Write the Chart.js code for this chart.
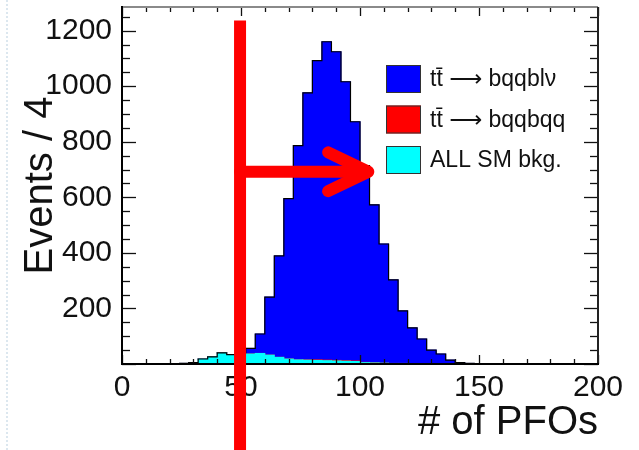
<!DOCTYPE html>
<html>
<head>
<meta charset="utf-8">
<script src="https://cdn.jsdelivr.net/npm/chart.js@4"></script>
<style>
  html, body { margin: 0; padding: 0; background: #fff; }
  #wrap { position: relative; width: 639px; height: 450px; }
  #dots { position: absolute; left: 6px; top: 0; height: 450px; border-left: 2px dotted #dce7ef; }
</style>
</head>
<body>
<div id="wrap">
  <div id="dots"></div>
  <canvas id="pfo" width="639" height="450"></canvas>
</div>
<script>
// histogram bins (lower edge, width 4)
const binWidth = 4;
const binStarts = [24, 28, 32, 36, 40, 44, 48, 52, 56, 60, 64, 68, 72, 76, 80, 84, 88, 92, 96, 100,
  104, 108, 112, 116, 120, 124, 128, 132, 136, 140, 144];
// ALL SM bkg. (bottom of the stack)
const smBkg = [2, 5, 18, 26, 40, 34, 38, 36, 38, 32, 24, 18, 15, 14, 13, 12, 11, 10, 9, 5,
  4, 3, 2, 2, 1, 0, 0, 0, 0, 0, 0];
// tt -> bqqbqq
const ttHad = [0, 0, 0, 0, 0, 0, 0, 0, 0, 0, 0, 0, 0, 1, 2, 2, 2, 2, 2, 1,
  1, 0, 0, 0, 0, 0, 0, 0, 0, 0, 0];
// tt -> bqqblv (top of the stack)
const ttSemi = [0, 0, 0, 0, 0, 0, 2, 20, 70, 209, 365, 577, 771, 961, 1077, 1146, 1111, 1004, 861, 708,
  568, 429, 301, 189, 129, 90, 50, 36, 14, 5, 2];

const xTicks = [0, 50, 100, 150, 200];
const yTicks = [200, 400, 600, 800, 1000, 1200];

// cut line + arrow (data units)
const cutX = 49.6;
const cutTop = 1236;
const arrowY = 692;
const arrowTip = 103.5;
const arrowBack = 86.6;
const arrowSpread = 70;

const FONT = "'Liberation Sans', Arial, Helvetica, 'DejaVu Sans', sans-serif";

const toPoints = arr => binStarts.map((b, i) => ({ x: b + binWidth / 2, y: arr[i] }));

// outline of the stacked total, stepped at the bin edges
const outline = binStarts.map((b, i) => ({ x: b, y: smBkg[i] + ttHad[i] + ttSemi[i] }));
outline.push({ x: binStarts[binStarts.length - 1] + binWidth, y: 0 });

const frameTicks = {
  id: 'frameTicks',
  afterDatasetsDraw(chart) {
    const { ctx, chartArea: a, scales: { x, y } } = chart;
    ctx.save();
    ctx.strokeStyle = '#111';
    ctx.lineWidth = 1.3;
    const seg = (x1, y1, x2, y2) => { ctx.beginPath(); ctx.moveTo(x1, y1); ctx.lineTo(x2, y2); ctx.stroke(); };
    for (let v = x.min; v <= x.max; v += 10) {
      const px = Math.round(x.getPixelForValue(v)) + 0.5;
      const len = v % 50 === 0 ? 9 : 5;
      seg(px, a.bottom, px, a.bottom - len);
      seg(px, a.top, px, a.top + len);
    }
    for (let v = 0; v <= y.max; v += 50) {
      const py = Math.round(y.getPixelForValue(v)) + 0.5;
      const len = v % 200 === 0 ? 14 : 8;
      seg(a.left, py, a.left + len, py);
      seg(a.right, py, a.right - len, py);
    }
    ctx.lineWidth = 2;
    ctx.strokeStyle = '#8a8a8a';
    seg(a.left, a.top, a.right, a.top);
    ctx.strokeStyle = '#222';
    seg(a.right, a.top, a.right, a.bottom);
    ctx.strokeStyle = '#000';
    seg(a.left, a.top - 1, a.left, a.bottom + 1);
    seg(a.left - 1, a.bottom, a.right + 1, a.bottom);
    ctx.restore();
  }
};

const legendBox = {
  id: 'legendBox',
  afterDraw(chart) {
    const { ctx, chartArea: a } = chart;
    const entries = [2, 1, 0].map(i => chart.data.datasets[i]);
    ctx.save();
    ctx.font = '23px ' + FONT;
    ctx.textBaseline = 'middle';
    entries.forEach((ds, k) => {
      const bx = a.left + 264;
      const by = a.top + 58 + k * 40.5;
      ctx.fillStyle = ds.backgroundColor;
      ctx.fillRect(bx, by, 35, 28);
      ctx.strokeStyle = '#333';
      ctx.lineWidth = 1;
      ctx.strokeRect(bx + 0.5, by + 0.5, 34, 27);
      ctx.fillStyle = '#111';
      ctx.fillText(ds.label, bx + 44, by + 15);
    });
    ctx.restore();
  }
};

const cutArrow = {
  id: 'cutArrow',
  afterDraw(chart) {
    const { ctx, scales: { x, y } } = chart;
    const cx = x.getPixelForValue(cutX);
    const ay = y.getPixelForValue(arrowY);
    const tip = x.getPixelForValue(arrowTip);
    const back = x.getPixelForValue(arrowBack);
    ctx.save();
    ctx.strokeStyle = '#ff0000';
    ctx.lineWidth = 12;
    ctx.beginPath();
    ctx.moveTo(cx, y.getPixelForValue(cutTop));
    ctx.lineTo(cx, chart.height);
    ctx.stroke();
    ctx.lineCap = 'round';
    ctx.lineJoin = 'round';
    ctx.beginPath();
    ctx.moveTo(cx, ay);
    ctx.lineTo(tip - 4, ay);
    ctx.stroke();
    ctx.beginPath();
    ctx.moveTo(back, y.getPixelForValue(arrowY + arrowSpread));
    ctx.lineTo(tip, ay);
    ctx.lineTo(back, y.getPixelForValue(arrowY - arrowSpread));
    ctx.stroke();
    ctx.restore();
  }
};

const barOpts = { grouped: false, barPercentage: 1, categoryPercentage: 1, borderWidth: 0, inflateAmount: 0.5 };

new Chart(document.getElementById('pfo'), {
  type: 'bar',
  data: {
    datasets: [
      { label: 'ALL SM bkg.', data: toPoints(smBkg), backgroundColor: '#00ffff', ...barOpts },
      { label: 't\u0074\u0304 \u27f6 bqqbqq', data: toPoints(ttHad), backgroundColor: '#ff0000', ...barOpts },
      { label: 't\u0074\u0304 \u27f6 bqqbl\u03bd', data: toPoints(ttSemi), backgroundColor: '#0000ff', ...barOpts },
      { type: 'line', label: 'outline', data: outline, stepped: 'before', borderColor: '#000', borderWidth: 1.2,
        pointRadius: 0, fill: false, order: -1 }
    ]
  },
  options: {
    responsive: false,
    animation: false,
    layout: { padding: { top: 7, right: 41, left: 0, bottom: 0 } },
    plugins: { legend: { display: false }, tooltip: { enabled: false } },
    scales: {
      x: {
        type: 'linear', min: 0, max: 200, offset: false,
        grid: { display: false, drawTicks: false },
        border: { display: false },
        afterBuildTicks: s => { s.ticks = xTicks.map(v => ({ value: v })); },
        ticks: { font: { family: FONT, size: 30 }, color: '#111', padding: 6, maxRotation: 0,
          callback: v => String(v) },
        title: { display: true, text: '# of PFOs', align: 'end', color: '#111',
          font: { family: FONT, size: 40 }, padding: { top: 0, bottom: 3 } },
        afterFit: s => { s.height = 86; s.paddingLeft = 0; s.paddingRight = 0; }
      },
      y: {
        stacked: true, min: 0, max: 1285,
        grid: { display: false, drawTicks: false },
        border: { display: false },
        afterBuildTicks: s => { s.ticks = yTicks.map(v => ({ value: v })); },
        ticks: { font: { family: FONT, size: 30 }, color: '#111', padding: 10,
          callback: v => String(v) },
        title: { display: true, text: 'Events / 4', color: '#111',
          font: { family: FONT, size: 40 }, padding: { top: 17, bottom: 0 } },
        afterFit: s => { s.width = 122; s.paddingTop = 0; s.paddingBottom = 0; }
      }
    }
  },
  plugins: [frameTicks, legendBox, cutArrow]
});
</script>
</body>
</html>
